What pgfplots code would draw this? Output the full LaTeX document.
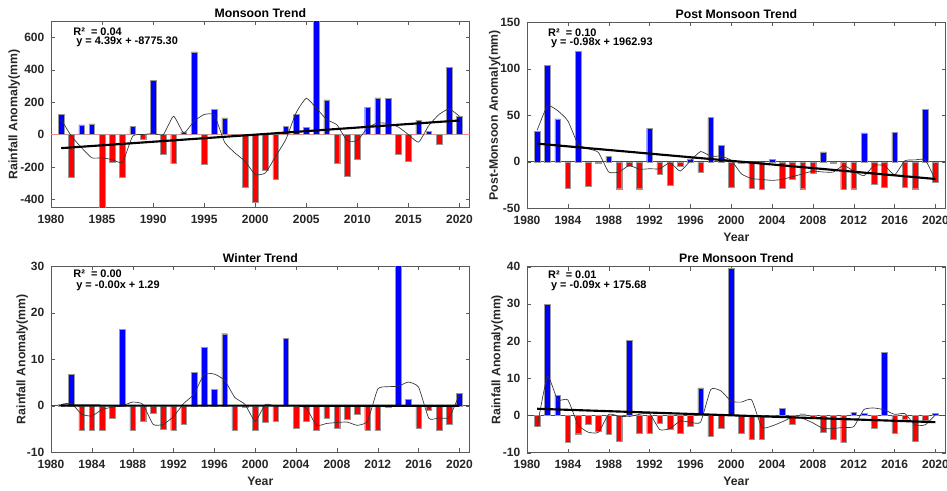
\documentclass[border=0pt]{standalone}
\usepackage{fontspec}
\setmainfont{Liberation Sans}
\usepackage{pgfplots}
\pgfplotsset{compat=1.18}
\usepackage{pgfplotstable}

\pgfplotstableread{
year val ma
1981 125 93
1982 -265 -10
1983 60 -82
1984 66 -144
1985 -470 -144
1986 -170 -155
1987 -265 -171
1988 49 -10
1989 -30 0
1990 337 6
1991 -123 0
1992 -180 113
1993 16 10
1994 511 82
1995 -185 124
1996 156 120
1997 103 -47
1998 -5 -113
1999 -326 -165
2000 -417 -247
2001 -218 -237
2002 -277 -134
2003 49 -30
2004 127 134
2005 45 224
2006 720 162
2007 214 93
2008 -180 60
2009 -257 -37
2010 -152 -37
2011 170 41
2012 226 72
2013 224 68
2014 -119 47
2015 -164 0
2016 86 -47
2017 21 56
2018 -60 124
2019 415 159
2020 113 113
}\mon

\pgfplotstableread{
year val ma
1981 33 34
1982 103.5 60
1983 46 55
1984 -28.6 44
1985 118.6 19
1986 -26 14
1987 -1 10
1988 6 -11
1989 -29 -11
1990 -5 -4
1991 -29 -8
1992 36 -7.5
1993 -13 -7.5
1994 -25 -1
1995 -5 -10
1996 3 1
1997 -11 11
1998 47.5 6
1999 18 6
2000 -27 1.5
2001 -1 -13
2002 -28 -18
2003 -30 -19
2004 2.5 -20
2005 -28 -19
2006 -19 -16
2007 -29 -13
2008 -12 -10
2009 10.7 -11
2010 -1 -11
2011 -30 -4
2012 -29 -10
2013 31 -15
2014 -24 -4
2015 -27 -4
2016 32 -14
2017 -27 1
2018 -29 2
2019 56 2
2020 -22.5 -20
}\post

\pgfplotstableread{
year val ma
1981 0.3 0.3
1982 6.8 0.5
1983 -5.3 -1.8
1984 -5.2 -2.2
1985 -5.2 -0.8
1986 -2.7 -0.3
1987 16.5 0
1988 -5.3 0.8
1989 -3.3 0.3
1990 -1.6 -4
1991 -5.1 -4
1992 -5.3 -2.3
1993 -4.0 0.5
1994 7.2 2.5
1995 12.5 6.8
1996 3.5 6.8
1997 15.5 5.5
1998 -5.2 1.8
1999 -0.4 0.3
2000 -5.2 -3.3
2001 -3.5 0.3
2002 -3.3 -0.1
2003 14.5 0
2004 -4.8 0
2005 -3.3 -0.5
2006 -5.3 -4.2
2007 -2.7 -3.8
2008 -4.8 -3.6
2009 -2.9 -3.5
2010 -1.9 -4.2
2011 -5.2 -3.3
2012 -5.3 3.6
2013 -0.2 4.1
2014 31 4.2
2015 1.4 5.1
2016 -4.8 4
2017 -0.9 -2.7
2018 -5.3 -2.6
2019 -4.0 -2.5
2020 2.7 2.5
}\win

\pgfplotstableread{
year val ma
1981 -3.0 -3
1982 29.8 10.5
1983 5.5 4.2
1984 -7.1 4.2
1985 -4.9 -2.5
1986 -2.3 -4.5
1987 -4.2 -4.5
1988 -5.1 0.3
1989 -6.8 -0.2
1990 20.2 -0.3
1991 -4.7 0.3
1992 -4.7 0.5
1993 -2.2 -3.8
1994 -3.6 -3.5
1995 -4.7 -1.5
1996 -2.9 -1.8
1997 7.4 -1.8
1998 -5.5 7
1999 -3.5 6.6
2000 39.5 3.8
2001 -4.7 3.6
2002 -6.5 4.2
2003 -6.5 -3.2
2004 -0.3 -2.8
2005 1.9 -1.7
2006 -2.4 -0.5
2007 0.4 -0.8
2008 -0.5 -2
2009 -4.6 -3.5
2010 -6.4 -3.5
2011 -7.3 -3.2
2012 0.9 -3
2013 0.5 1.6
2014 -3.5 2
2015 17 1.5
2016 -4.7 0.3
2017 -1 0.5
2018 -6.9 -2.6
2019 -1.4 -2.5
2020 0.5 0.2
}\pre

\pgfplotsset{
  panel/.style={
    scale only axis, width=314pt, height=139.5pt,
    xmin=1980, xmax=2021,
    tick align=inside, major tick length=3pt,
    axis line style={black!65}, tick style={black!65},
    tick label style={font=\bfseries\fontsize{9}{10}\selectfont, black!85},
    xticklabel style={yshift=-2pt},
    yticklabel style={xshift=-1.5pt},
    /pgf/number format/assume math mode=true,
    /pgf/number format/1000 sep={},
    title style={font=\bfseries\fontsize{9.2}{10}\selectfont, at={(axis description cs:0.5,1.045)}, anchor=center, yshift=-6pt},
    label style={font=\bfseries\fontsize{9.2}{10}\selectfont, black!85},
    xlabel style={at={(axis description cs:0.5,-0.155)}, anchor=center},
  },
  pos/.style={ybar, bar width=0.55, bar shift=0pt, fill=blue, draw=black!40, line width=0.3pt, restrict y to domain=0:100000},
  neg/.style={ybar, bar width=0.55, bar shift=0pt, fill=red, draw=black!40, line width=0.3pt, restrict y to domain=-100000:0},
  mav/.style={black!80, line width=0.5pt, smooth, tension=0.3},
  trend/.style={black, line width=1.6pt},
}
\tikzset{eqn/.style={anchor=west, font=\bfseries\fontsize{8.2}{9}\selectfont, inner sep=0pt}}

\begin{document}
\begin{tikzpicture}
\useasboundingbox (0,0) rectangle (710.25pt,-367.5pt);

% Monsoon
\begin{axis}[panel, at={(38.25pt,-155.5pt)}, anchor=south west,
  title={Monsoon Trend}, ylabel={Rainfall Anomaly(mm)},
  ylabel style={at={(axis description cs:-0.088,0.5)}, anchor=center},
  ymin=-450, ymax=700, ytick={-400,-200,0,200,400,600},
  xtick={1980,1985,...,2020}]
\addplot[red!45, line width=1.1pt] coordinates {(1980,0) (2021,0)};
\addplot[pos] table[x=year,y=val]{\mon};
\addplot[neg] table[x=year,y=val]{\mon};
\addplot[mav] table[x=year,y=ma]{\mon};
\addplot[trend] coordinates {(1981,-84) (2020,87)};
\node[eqn] at (rel axis cs:0.053,0.942) {R²~~= 0.04};
\node[eqn] at (rel axis cs:0.06,0.888) {y = 4.39x + -8775.30};
\end{axis}

% Post monsoon
\begin{axis}[panel, at={(395.25pt,-156.2pt)}, anchor=south west,
  title={Post Monsoon Trend}, ylabel={Post-Monsoon Anomaly(mm)}, xlabel={Year},
  ylabel style={at={(axis description cs:-0.077,0.5)}, anchor=center},
  ymin=-50, ymax=150, ytick={-50,0,50,100,150},
  xtick={1980,1984,...,2020}]
\addplot[red, line width=0.6pt] coordinates {(1980,0) (2021,0)};
\addplot[pos] table[x=year,y=val]{\post};
\addplot[neg] table[x=year,y=val]{\post};
\addplot[mav] table[x=year,y=ma]{\post};
\addplot[trend] coordinates {(1981,19.5) (2020,-18.5)};
\node[eqn] at (rel axis cs:0.05,0.945) {R²~~= 0.10};
\node[eqn] at (rel axis cs:0.057,0.888) {y = -0.98x + 1962.93};
\end{axis}

% Winter
\begin{axis}[panel, at={(38.25pt,-339.2pt)}, anchor=south west,
  title={Winter Trend}, ylabel={Rainfall Anomaly(mm)}, xlabel={Year},
  ylabel style={at={(axis description cs:-0.069,0.5)}, anchor=center},
  ymin=-10, ymax=30, ytick={-10,0,10,20,30},
  xtick={1980,1984,...,2020}]
\addplot[red, line width=0.6pt] coordinates {(1980,0) (2021,0)};
\addplot[pos] table[x=year,y=val]{\win};
\addplot[neg] table[x=year,y=val]{\win};
\addplot[mav] table[x=year,y=ma]{\win};
\addplot[trend] coordinates {(1981,0.05) (2020,0.0)};
\node[eqn] at (rel axis cs:0.053,0.958) {R²~~= 0.00};
\node[eqn] at (rel axis cs:0.06,0.897) {y = -0.00x + 1.29};
\end{axis}

% Pre monsoon
\begin{axis}[panel, at={(395.25pt,-339.5pt)}, anchor=south west,
  title={Pre Monsoon Trend}, ylabel={Rainfall Anomaly(mm)}, xlabel={Year},
  ylabel style={at={(axis description cs:-0.071,0.5)}, anchor=center},
  ymin=-10, ymax=40, ytick={-10,0,10,20,30,40},
  xtick={1980,1984,...,2020}]
\addplot[red, line width=0.6pt] coordinates {(1980,0) (2021,0)};
\addplot[pos] table[x=year,y=val]{\pre};
\addplot[neg] table[x=year,y=val]{\pre};
\addplot[mav] table[x=year,y=ma]{\pre};
\addplot[trend] coordinates {(1981,1.8) (2020,-1.8)};
\node[eqn] at (rel axis cs:0.05,0.956) {R²~~= 0.01};
\node[eqn] at (rel axis cs:0.057,0.895) {y = -0.09x + 175.68};
\end{axis}
\end{tikzpicture}
\end{document}
